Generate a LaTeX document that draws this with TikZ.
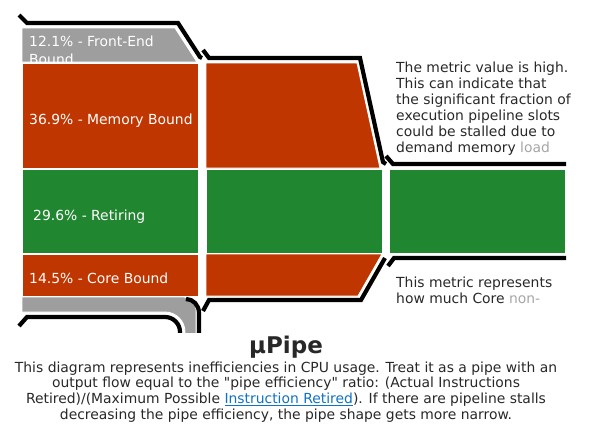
\documentclass[tikz,border=0pt]{standalone}
\usepackage{fontspec}
\setmainfont{DejaVu Sans}[Ligatures=TeXOff]
\usepackage{xcolor}
\usepackage{tikz}
\definecolor{stallred}{RGB}{191,54,0}
\definecolor{retgreen}{RGB}{33,134,48}
\definecolor{specgray}{RGB}{158,158,158}
\definecolor{linkblue}{RGB}{16,114,196}
\definecolor{txtdark}{RGB}{40,40,40}
\newcommand{\pipefont}{\fontsize{13.9}{16}\selectfont}
\tikzstyle{wall} = [line width=4.2pt,black,line join=miter]
\tikzstyle{band} = [draw=white,line width=0.9pt]
\tikzstyle{lbl} = [white,anchor=base west,inner sep=0pt,font=\pipefont]
\tikzstyle{note} = [txtdark,anchor=north west,inner sep=0pt,align=left,font=\pipefont]

\begin{document}
\begin{tikzpicture}[x=1pt,y=-1pt]
	\useasboundingbox (0,0) rectangle (590,434);
	\begin{scope}
	\clip (0,0) rectangle (590,332);
	% first stage
	\path[band,fill=specgray] (22,28) -- (175,28) -- (197,62) -- (22,62) -- cycle;
	\path[band,fill=stallred] (22,63) rectangle (198,168);
	\path[band,fill=retgreen] (22,169) rectangle (198,253);
	\path[band,fill=stallred] (22,254) rectangle (198,296);
	\path[band,fill=specgray] (22,297) -- (184,297) .. controls (190.6,297) and (196,302.4) .. (196,309) -- (196,340) -- (185,340) -- (185,332) .. controls (185,321) and (176,312) .. (165,312) -- (22,312) -- cycle;
	% second stage
	\path[band,fill=stallred] (206,63) -- (357,63) -- (380,168) -- (206,168) -- cycle;
	\path[band,fill=retgreen] (206,169) rectangle (382,253);
	\path[band,fill=stallred] (206,254) -- (382,254) -- (358,296) -- (206,296) -- cycle;
	% third stage
	\path[band,fill=retgreen] (389,169) rectangle (565,253);
	% walls
	\draw[wall] (19,15) -- (27,23) -- (178,23) -- (200,57) -- (202,58);
	\draw[wall] (203,50) -- (209,58) -- (360,58) -- (383,162) -- (386,164);
	\draw[wall] (386,156) -- (393,164) -- (566,164);
	\draw[wall] (19,326) -- (27,317) -- (165,317) .. controls (173.3,317) and (180,323.7) .. (180,332) -- (180,340);
	\draw[wall] (186,299) .. controls (193,299) and (199,305) .. (199,313) -- (199,340);
	\draw[wall] (203,311) -- (209,300) -- (361,300) -- (385,258);
	\draw[wall] (388,266) -- (394,258) -- (566,258);
	% labels
	\begin{scope}
	\clip (22,28) -- (175,28) -- (197,62) -- (22,62) -- cycle;
	\node[lbl] (frontend) at (29,46) {12.1\% - Front-End};
	\node[lbl] (frontend2) at (29,64.5) {Bound};
	\end{scope}
	\node[lbl] (membound) at (29,124) {36.9\% - Memory Bound};
	\node[lbl] (retiring) at (33,220) {29.6\% - Retiring};
	\node[lbl] (corebound) at (29,283) {14.5\% - Core Bound};
	\end{scope}
	% notes
	\node[note] (memnote) at (396,61.5) {The metric value is high.\\This can indicate that\\the significant fraction of\\execution pipeline slots\\could be stalled due to\\demand memory \textcolor{black!35}{load}};
	\node[note] (corenote) at (396,276.5) {This metric represents\\how much Core \textcolor{black!35}{non-}};
	% caption
	\node[txtdark,anchor=base,inner sep=0pt,font=\fontsize{23}{27}\selectfont\bfseries] (title) at (286,353) {μPipe};
	\node[txtdark,anchor=north,inner sep=0pt,align=center,font=\fontsize{13.9}{15.7}\selectfont] (desc) at (286,361.5) {This diagram represents inefficiencies in CPU usage. Treat it as a pipe with an\\output flow equal to the "pipe efficiency" ratio: (Actual Instructions\\Retired)/(Maximum Possible \textcolor{linkblue}{\underline{Instruction Retired}}). If there are pipeline stalls\\decreasing the pipe efficiency, the pipe shape gets more narrow.};
\end{tikzpicture}
\end{document}
